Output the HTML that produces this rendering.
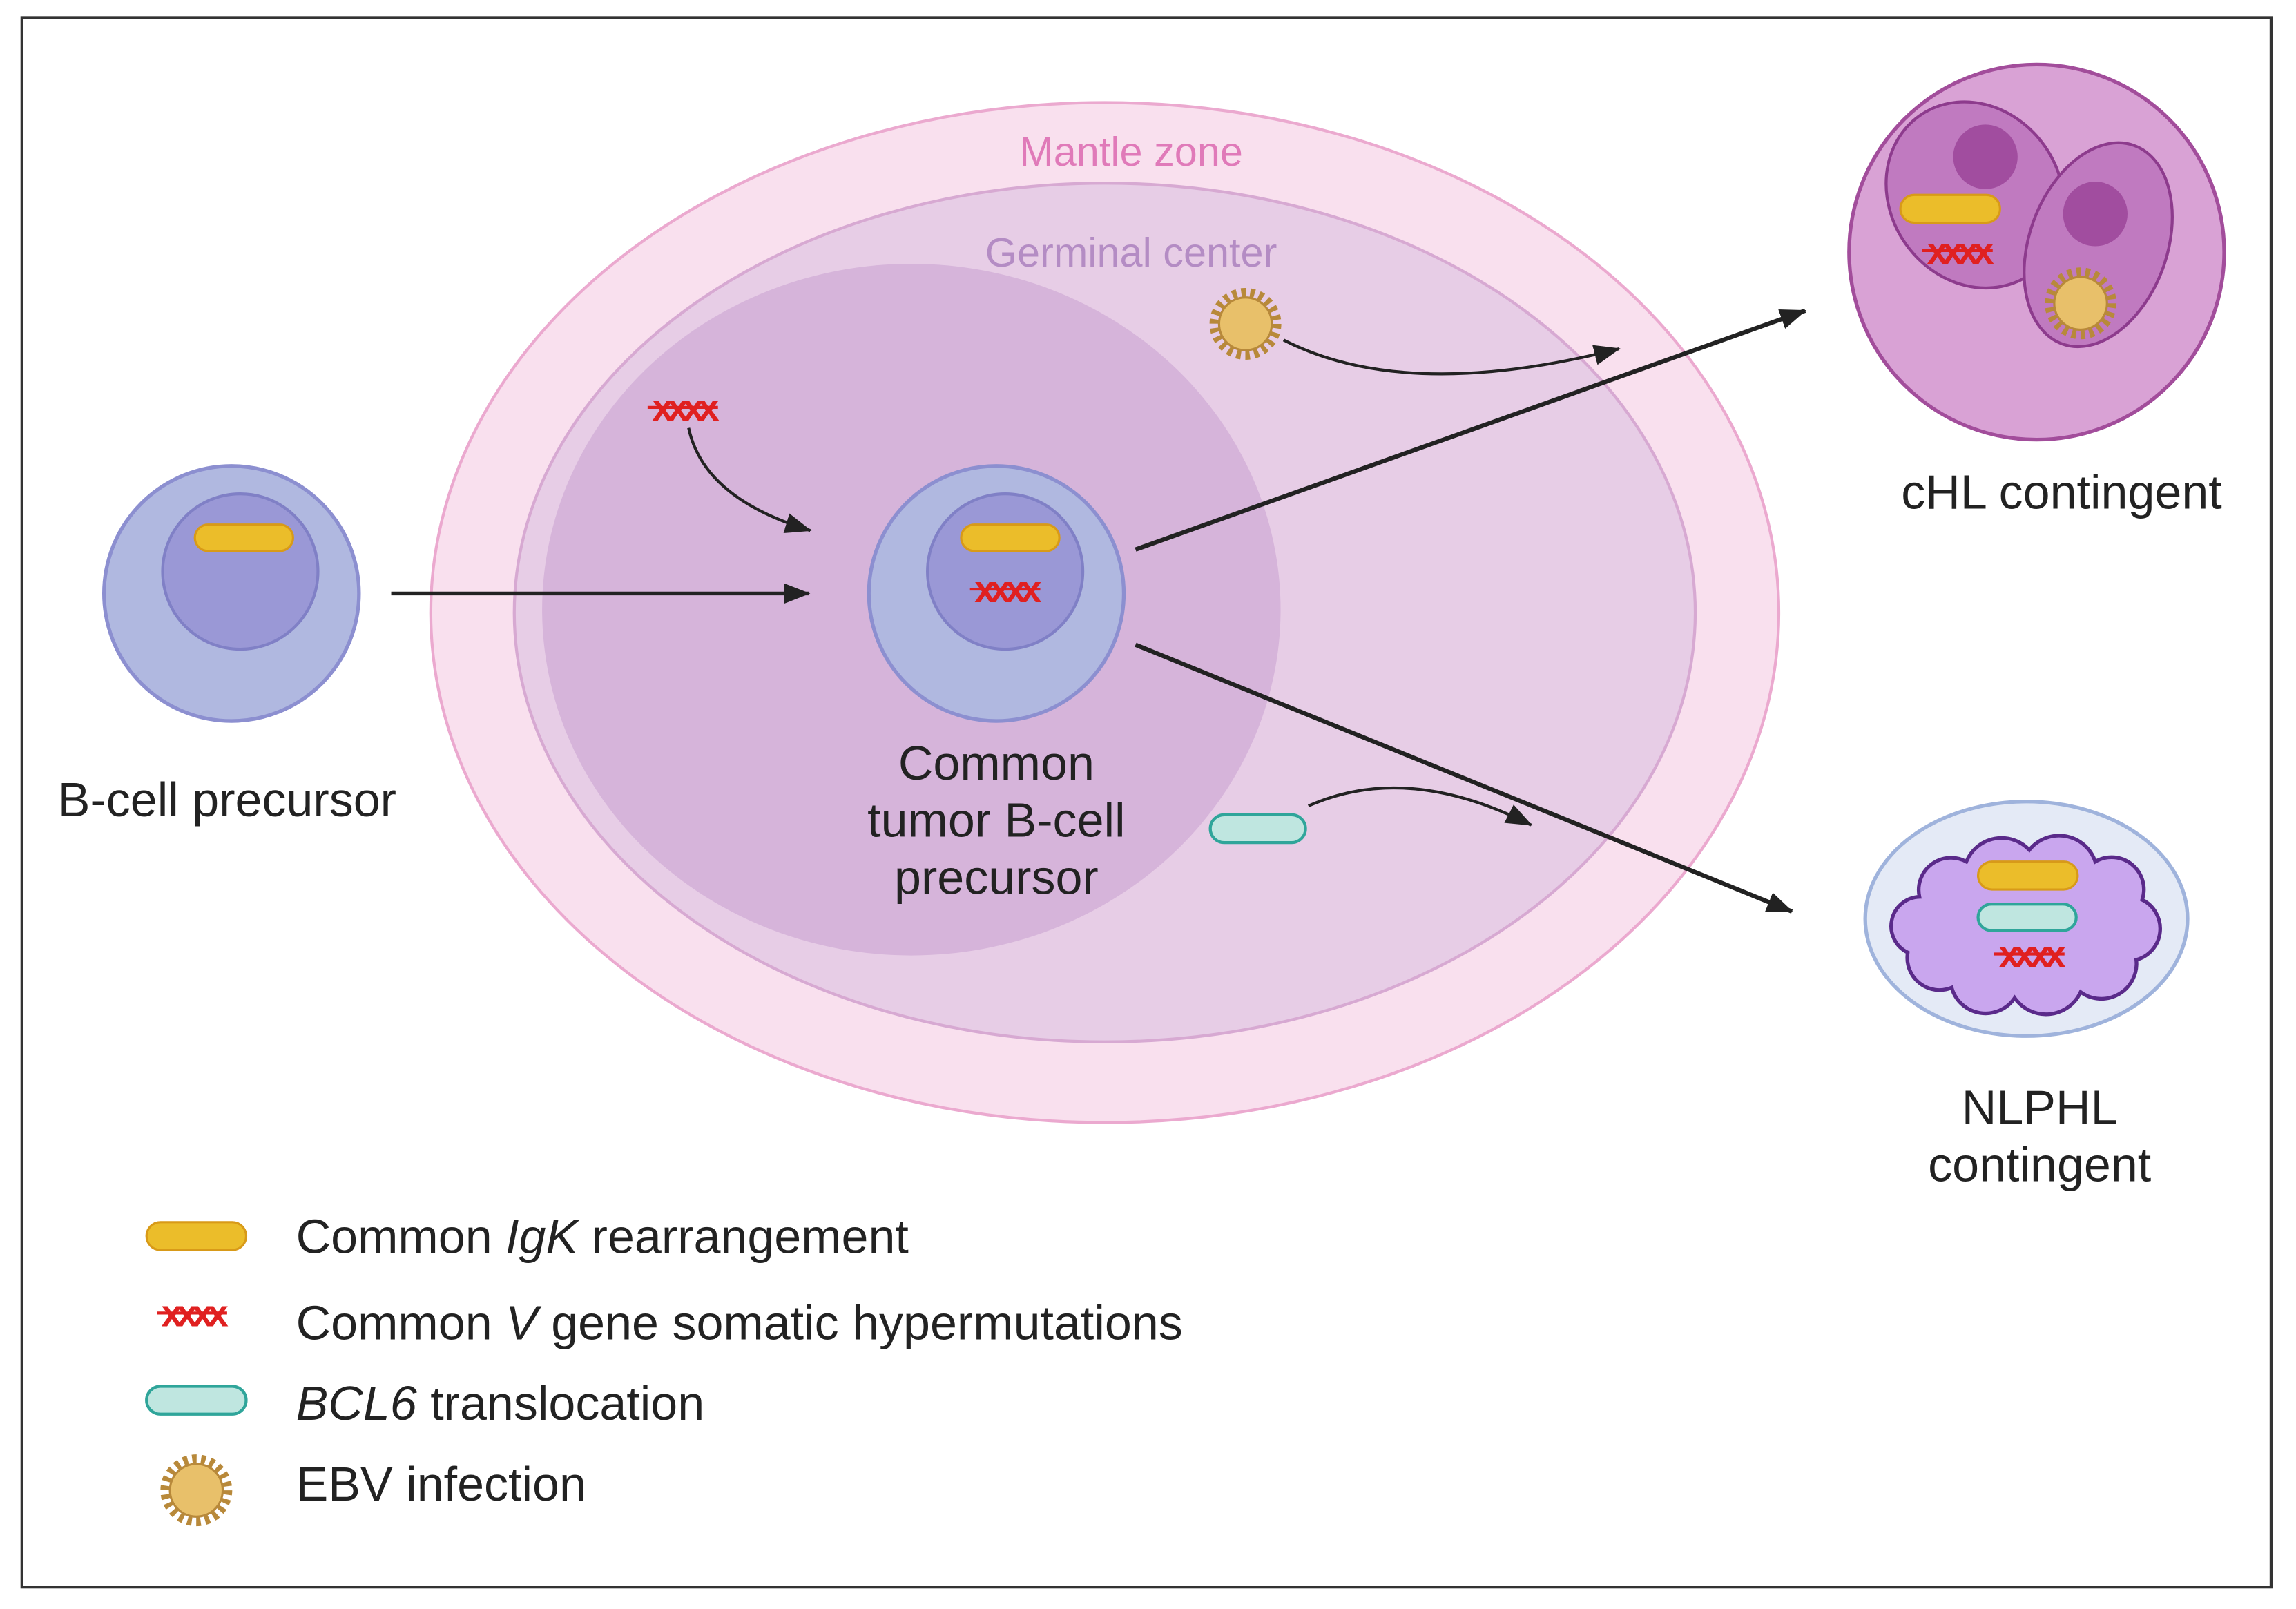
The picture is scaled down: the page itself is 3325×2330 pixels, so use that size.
<!DOCTYPE html>
<html><head><meta charset="utf-8"><style>
html,body{margin:0;padding:0;background:#fff}
svg{display:block}
text{font-family:"Liberation Sans",sans-serif}
</style></head><body>
<svg width="3325" height="2330" viewBox="0 0 1567 1098" preserveAspectRatio="none" xmlns="http://www.w3.org/2000/svg">
<defs>
<marker id="ah2" markerWidth="18" markerHeight="14" refX="17" refY="7" orient="auto" markerUnits="userSpaceOnUse" viewBox="0 0 18 14">
<path d="M0,0 L18,7 L0,14 z" fill="#222"/></marker>
<g id="xx">
<line x1="-24" y1="0" x2="24" y2="0" stroke="#e02020" stroke-width="2"/>
<text x="0" y="9" text-anchor="middle" font-size="26" font-weight="bold" fill="#e02020" letter-spacing="-4">xxxx</text>
</g>
<g id="star">
<circle r="21" fill="none" stroke="#b8893a" stroke-width="7" stroke-dasharray="3 3"/>
<circle r="18" fill="#e8c06a" stroke="#b8893a" stroke-width="1.5"/>
</g>
</defs>
<rect x="15" y="12" width="1535" height="1071" fill="#fff" stroke="#333" stroke-width="2"/>

<ellipse cx="754" cy="418" rx="460" ry="348" fill="#f9e0ee" stroke="#eba9cf" stroke-width="2"/>
<ellipse cx="754" cy="418" rx="403" ry="293" fill="#e7cde6" stroke="#d7a9d2" stroke-width="2"/>
<ellipse cx="622" cy="416" rx="252" ry="236" fill="#d6b4da"/>
<text x="772" y="113" text-anchor="middle" font-size="28" fill="#e07ab9">Mantle zone</text>
<text x="772" y="182" text-anchor="middle" font-size="28" fill="#b48cc4">Germinal center</text>

<circle cx="158" cy="405" r="87" fill="#b0b8e0" stroke="#8c8fd0" stroke-width="2.5"/>
<circle cx="164" cy="390" r="53" fill="#9a98d6" stroke="#8080c6" stroke-width="2"/>
<rect x="133" y="358" width="67" height="18" rx="9" fill="#ebbd2a" stroke="#d89a18" stroke-width="1.5"/>
<text x="155" y="557" text-anchor="middle" font-size="33" fill="#222">B-cell precursor</text>
<line x1="267" y1="405" x2="552" y2="405" stroke="#222" stroke-width="2.5" marker-end="url(#ah2)"/>

<circle cx="680" cy="405" r="87" fill="#b0b8e0" stroke="#8c8fd0" stroke-width="2.5"/>
<circle cx="686" cy="390" r="53" fill="#9a98d6" stroke="#8080c6" stroke-width="2"/>
<rect x="656" y="358" width="67" height="18" rx="9" fill="#ebbd2a" stroke="#d89a18" stroke-width="1.5"/>
<use href="#xx" x="686" y="402"/>
<text x="680" y="532" text-anchor="middle" font-size="33" fill="#222">Common</text>
<text x="680" y="571" text-anchor="middle" font-size="33" fill="#222">tumor B-cell</text>
<text x="680" y="610" text-anchor="middle" font-size="33" fill="#222">precursor</text>

<use href="#xx" x="466" y="278"/>
<path d="M470,292 Q480,340 553,362" fill="none" stroke="#222" stroke-width="2" marker-end="url(#ah2)"/>
<use href="#star" x="850" y="221"/>
<path d="M876,232 Q960,275 1105,238" fill="none" stroke="#222" stroke-width="2" marker-end="url(#ah2)"/>
<rect x="826" y="556" width="65" height="19" rx="9.5" fill="#bfe6e0" stroke="#2fa59a" stroke-width="2"/>
<path d="M893,550 Q960,520 1045,563" fill="none" stroke="#222" stroke-width="2" marker-end="url(#ah2)"/>

<line x1="775" y1="375" x2="1232" y2="212" stroke="#222" stroke-width="3" marker-end="url(#ah2)"/>
<line x1="775" y1="440" x2="1223" y2="622" stroke="#222" stroke-width="3" marker-end="url(#ah2)"/>

<circle cx="1390" cy="172" r="128" fill="#d9a2d5" stroke="#a24d9b" stroke-width="2.5"/>
<ellipse cx="1348" cy="133" rx="58" ry="66" transform="rotate(-35 1348 133)" fill="#c07ac0" stroke="#8d3b8d" stroke-width="2"/>
<ellipse cx="1432" cy="167" rx="47" ry="72" transform="rotate(20 1432 167)" fill="#c07ac0" stroke="#8d3b8d" stroke-width="2"/>
<circle cx="1355" cy="107" r="22" fill="#a14d9f"/>
<circle cx="1430" cy="146" r="22" fill="#a14d9f"/>
<rect x="1297" y="133" width="68" height="19" rx="9.5" fill="#ebbd2a" stroke="#d89a18" stroke-width="1.5"/>
<use href="#xx" x="1336" y="171"/>
<use href="#star" x="1420" y="207"/>
<text x="1407" y="347" text-anchor="middle" font-size="33" fill="#222">cHL contingent</text>

<ellipse cx="1383" cy="627" rx="110" ry="80" fill="#e4eaf6" stroke="#9fb3dc" stroke-width="2.5"/>
<path d="M1310,612 A22,22 0 0 1 1342,588 A26,26 0 0 1 1385,580 A26,26 0 0 1 1430,588 A22,22 0 0 1 1462,614 A22,22 0 0 1 1458,655 A24,24 0 0 1 1420,677 A26,26 0 0 1 1375,681 A24,24 0 0 1 1332,674 A22,22 0 0 1 1302,650 A20,20 0 0 1 1310,612 Z" fill="#c9a6ee" stroke="#5a2a8a" stroke-width="2.5"/>
<rect x="1350" y="588" width="68" height="19" rx="9.5" fill="#ebbd2a" stroke="#d89a18" stroke-width="1.5"/>
<rect x="1350" y="617" width="67" height="18" rx="9" fill="#bfe6e0" stroke="#2fa59a" stroke-width="2"/>
<use href="#xx" x="1385" y="651"/>
<text x="1392" y="767" text-anchor="middle" font-size="33" fill="#222">NLPHL</text>
<text x="1392" y="806" text-anchor="middle" font-size="33" fill="#222">contingent</text>

<rect x="100" y="834" width="68" height="19" rx="9.5" fill="#ebbd2a" stroke="#d89a18" stroke-width="1.5"/>
<text x="202" y="855" font-size="33" fill="#222">Common <tspan font-style="italic">IgK</tspan> rearrangement</text>
<use href="#xx" x="131" y="896"/>
<text x="202" y="914" font-size="33" fill="#222">Common <tspan font-style="italic">V</tspan> gene somatic hypermutations</text>
<rect x="100" y="946" width="68" height="19" rx="9.5" fill="#bfe6e0" stroke="#2fa59a" stroke-width="2"/>
<text x="202" y="969" font-size="33" fill="#222"><tspan font-style="italic">BCL6</tspan> translocation</text>
<use href="#star" x="134" y="1017"/>
<text x="202" y="1024" font-size="33" fill="#222">EBV infection</text>
</svg>
</body></html>
